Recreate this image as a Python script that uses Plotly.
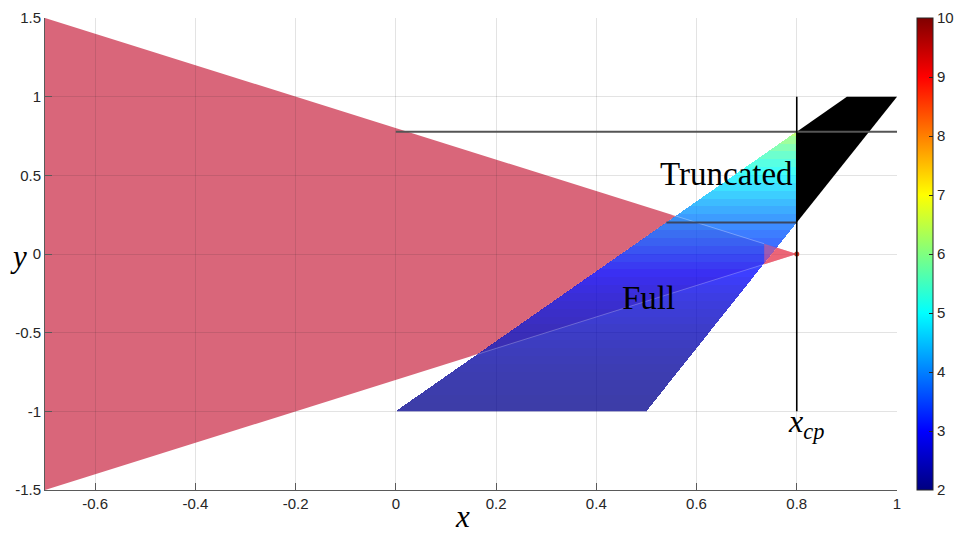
import numpy as np
import plotly.graph_objects as go

# ---------------- data ----------------
cone_x = [-0.7, 0.8, -0.7]          # red triangle vertices
cone_y = [1.5, 0.0, -1.5]
para_x = [0.0, 0.5, 1.0, 0.9]       # full parallelogram vertices
para_y = [-1.0, -1.0, 1.0, 1.0]
x_cp = 0.8
band_y = [-1.00, -0.95, -0.90, -0.85, -0.80, -0.75, -0.70, -0.65, -0.60, -0.55,
          -0.50, -0.45, -0.40, -0.35, -0.30, -0.25, -0.20, -0.15, -0.10, -0.05,
          0.00, 0.05, 0.10, 0.15, 0.20, 0.25, 0.30, 0.35, 0.40, 0.45,
          0.50, 0.55, 0.60, 0.65, 0.70, 0.75]
band_v = [2.10, 2.12, 2.14, 2.16, 2.19, 2.22, 2.26, 2.30, 2.35, 2.40,
          2.45, 2.51, 2.57, 2.64, 2.72, 2.81, 2.91, 3.02, 3.14, 3.27,
          3.40, 3.53, 3.67, 3.82, 3.98, 4.15, 4.32, 4.50, 4.68, 4.87,
          5.07, 5.28, 5.50, 5.75, 6.02, 6.35]
x_ticks = [-0.6, -0.4, -0.2, 0, 0.2, 0.4, 0.6, 0.8, 1]
x_ticklabels = ["-0.6", "-0.4", "-0.2", "0", "0.2", "0.4", "0.6", "0.8", "1"]
y_ticks = [-1.5, -1, -0.5, 0, 0.5, 1, 1.5]
y_ticklabels = ["-1.5", "-1", "-0.5", "0", "0.5", "1", "1.5"]
c_ticks = [2, 3, 4, 5, 6, 7, 8, 9, 10]

# MATLAB-like jet colormap
jet = [[0.0, "rgb(0,0,128)"], [0.125, "rgb(0,0,255)"], [0.375, "rgb(0,255,255)"],
       [0.625, "rgb(255,255,0)"], [0.875, "rgb(255,0,0)"], [1.0, "rgb(128,0,0)"]]

# ---------------- geometry helpers ----------------
def x_left(y):
    return para_x[0] + (y - para_y[0]) / (para_y[3] - para_y[0]) * (para_x[3] - para_x[0])

def x_right(y):
    return para_x[1] + (y - para_y[1]) / (para_y[2] - para_y[1]) * (para_x[2] - para_x[1])

yL = para_y[0] + (x_cp - para_x[0]) / (para_x[3] - para_x[0]) * (para_y[3] - para_y[0])
yR = para_y[1] + (x_cp - para_x[1]) / (para_x[2] - para_x[1]) * (para_y[2] - para_y[1])

L, R, T, B = 45, 58, 18, 43
W, H = 955, 533
pw, ph = W - L - R, H - T - B

dx = 1.7 / pw
dy = 3.0 / ph
xs = np.arange(para_x[0], x_cp, dx) + dx / 2
ys = np.arange(para_y[0], yL, dy) + dy / 2
XX, YY = np.meshgrid(xs, ys)
inside = (XX >= x_left(YY)) & (XX <= x_right(YY)) & (XX <= x_cp)
idx = np.clip(np.searchsorted(band_y, ys, side="right") - 1, 0, len(band_v) - 1)
vals = np.array(band_v)[idx]
Z = np.where(inside, vals[:, None], np.nan)

fig = go.Figure()

def path_of(px, py):
    return "M " + " L ".join(f"{a},{b}" for a, b in zip(px, py)) + " Z"

# red triangle + light veil where the coloured surface lies above it (both below traces)
shapes = [
    dict(type="path", path=path_of(cone_x, cone_y), xref="x", yref="y", layer="below",
         fillcolor="rgb(217,102,122)", line=dict(width=0)),
    dict(type="path", path=path_of([para_x[0], para_x[1], x_cp, x_cp],
                                   [para_y[0], para_y[1], yR, yL]),
         xref="x", yref="y", layer="below", fillcolor="rgba(255,255,255,0.6)",
         line=dict(width=0)),
]

# coloured (full) region
fig.add_trace(go.Heatmap(x=xs, y=ys, z=Z, colorscale=jet, zmin=2, zmax=10,
                         opacity=0.76, hoverinfo="skip",
                         colorbar=dict(x=(917 - L) / pw, xanchor="left", xref="paper",
                                       xpad=0, ypad=0,
                                       y=0, yanchor="bottom", len=1, lenmode="fraction",
                                       thickness=16, thicknessmode="pixels",
                                       outlinewidth=1, outlinecolor="#262626",
                                       tickvals=c_ticks, ticks="inside", ticklen=4,
                                       tickcolor="#262626",
                                       tickfont=dict(family="Liberation Sans", size=15, color="#262626"))))

# truncated black region
fig.add_trace(go.Scatter(x=[x_cp, para_x[2], para_x[3], x_cp, x_cp],
                         y=[yR, para_y[2], para_y[3], yL, yR], fill="toself",
                         fillcolor="black", line=dict(width=0, color="black"),
                         mode="lines", hoverinfo="skip", showlegend=False))

# red tip drawn on top
tip_x0 = 0.735
def cone_upper(x):
    return cone_y[0] + (x - cone_x[0]) / (cone_x[1] - cone_x[0]) * (cone_y[1] - cone_y[0])
def cone_lower(x):
    return cone_y[2] + (x - cone_x[2]) / (cone_x[1] - cone_x[2]) * (cone_y[1] - cone_y[2])
fig.add_trace(go.Scatter(x=[tip_x0, cone_x[1], tip_x0, tip_x0],
                         y=[cone_upper(tip_x0), cone_y[1], cone_lower(tip_x0), cone_upper(tip_x0)],
                         fill="toself", fillcolor="rgba(255,100,115,0.5)", line=dict(width=0),
                         mode="lines", hoverinfo="skip", showlegend=False))
# faint seams of the red triangle edges seen through the coloured region
seam_x0 = 0.55
fig.add_trace(go.Scatter(x=[seam_x0, tip_x0], y=[cone_upper(seam_x0), cone_upper(tip_x0)],
                         mode="lines", line=dict(color="rgba(255,255,255,0.3)", width=1),
                         hoverinfo="skip", showlegend=False))
fig.add_trace(go.Scatter(x=[0.15, tip_x0], y=[cone_lower(0.15), cone_lower(tip_x0)],
                         mode="lines", line=dict(color="rgba(255,255,255,0.25)", width=1),
                         hoverinfo="skip", showlegend=False))
fig.add_trace(go.Scatter(x=[cone_x[1]], y=[cone_y[1]], mode="markers",
                         marker=dict(size=5, color="#c83c28"), hoverinfo="skip", showlegend=False))

# lines
fig.add_trace(go.Scatter(x=[para_x[0], para_x[2]], y=[yL, yL], mode="lines",
                         line=dict(color="#555555", width=2), hoverinfo="skip", showlegend=False))
fig.add_trace(go.Scatter(x=[x_left(yR), x_cp], y=[yR, yR], mode="lines",
                         line=dict(color="#3a4660", width=2), hoverinfo="skip", showlegend=False))
fig.add_trace(go.Scatter(x=[x_cp, x_cp], y=[para_y[0], para_y[2]], mode="lines",
                         line=dict(color="black", width=1.6), hoverinfo="skip", showlegend=False))

serif = "Liberation Serif"
ann = [
    dict(x=0.797, y=0.51, xref="x", yref="y", text="Truncated", showarrow=False,
         xanchor="right", yanchor="middle", font=dict(family=serif, size=33, color="black")),
    dict(x=0.5036, y=-0.28, xref="x", yref="y", text="Full", showarrow=False,
         xanchor="center", yanchor="middle", font=dict(family=serif, size=33, color="black")),
    dict(x=0.778, y=-1.08, xref="x", yref="y", text="<i>x</i><sub><i>cp</i></sub>", showarrow=False,
         xanchor="left", yanchor="middle", font=dict(family=serif, size=32, color="black")),
    dict(x=(462 - L) / pw, y=(H - B - H - 3) / ph, xref="paper", yref="paper", text="<i>x</i>",
         showarrow=False, xanchor="center", yanchor="bottom",
         font=dict(family=serif, size=31, color="black")),
    dict(x=(18 - L) / pw, y=(H - B - 256) / ph, xref="paper", yref="paper", text="<i>y</i>",
         showarrow=False, xanchor="center", yanchor="middle",
         font=dict(family=serif, size=31, color="black")),
]

axis_common = dict(showgrid=True, gridcolor="rgba(38,38,38,0.13)", gridwidth=1,
                   zeroline=False, showline=True, linecolor="#5a5a5a", linewidth=1,
                   ticks="inside", ticklen=7, tickcolor="#5a5a5a", layer="above traces",
                   tickfont=dict(family="Liberation Sans", size=15, color="#262626"))

fig.update_layout(
    width=W, height=H,
    margin=dict(l=L, r=R, t=T, b=B, autoexpand=False),
    paper_bgcolor="white", plot_bgcolor="white",
    xaxis=dict(range=[-0.7, 1], tickvals=x_ticks, ticktext=x_ticklabels, **axis_common),
    yaxis=dict(range=[-1.5, 1.5], tickvals=y_ticks, ticktext=y_ticklabels, **axis_common),
    annotations=ann,
    shapes=shapes,
    showlegend=False,
)

fig.write_html("out.html")
